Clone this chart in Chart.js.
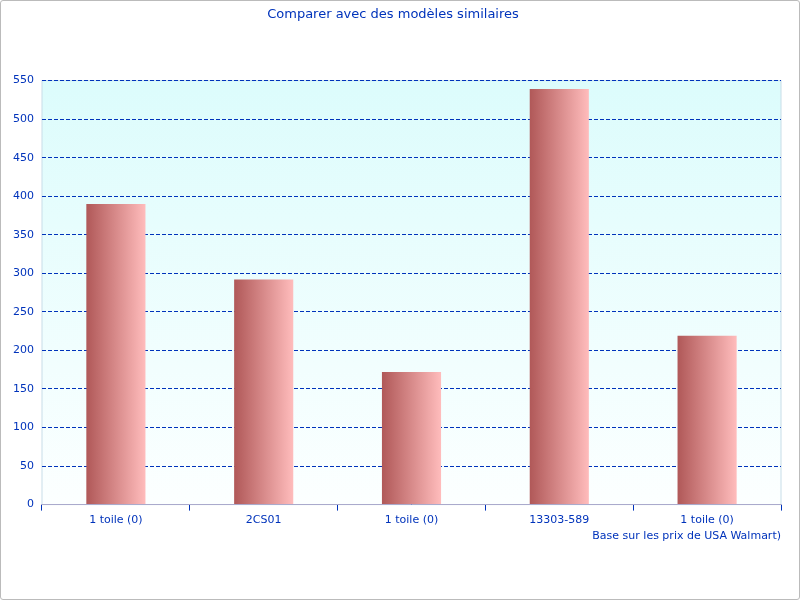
<!DOCTYPE html>
<html><head><meta charset="utf-8">
<script src="https://cdn.jsdelivr.net/npm/chart.js@4/dist/chart.umd.min.js"></script>
<style>body{margin:0;background:#fff}#w{position:absolute;left:0;top:0;width:798px;height:598px;border:1px solid #bbb;border-radius:3px}</style>
</head><body><div id="w"><canvas id="c" width="798" height="598"></canvas></div>
<script>
const categories=["1 toile (0)","2CS01","1 toile (0)","13303-589","1 toile (0)"];
const values=[390,292,172,539,219];
const yStep=50, yMax=550;
const blue="#0033bb";
const bgPlugin={id:"bg",beforeDraw(ch){const a=ch.chartArea,x=ch.ctx;const g=x.createLinearGradient(0,a.top,0,a.bottom);g.addColorStop(0,"#dcfcfc");g.addColorStop(1,"#fcffff");x.save();x.fillStyle=g;x.fillRect(a.left,a.top,a.right-a.left,a.bottom-a.top);x.strokeStyle="#c8dde8";x.strokeRect(a.left,a.top,a.right-a.left,a.bottom-a.top);x.restore();}};
function barFill(ctx){
  const ch=ctx.chart,s=ch.scales&&ch.scales.x;
  if(!s||!ch.chartArea)return"#d08888";
  const cx=s.getPixelForValue(ctx.dataIndex);
  const w=(s.right-s.left)/categories.length*0.4;
  if(!isFinite(cx)||!isFinite(w)||w<=0)return"#d08888";
  const g=ch.ctx.createLinearGradient(cx-w/2,0,cx+w/2,0);
  g.addColorStop(0,"#b05858");g.addColorStop(1,"#ffbcbc");return g;
}
new Chart(document.getElementById("c"),{type:"bar",
data:{labels:categories,datasets:[{data:values,barPercentage:0.4,categoryPercentage:1,backgroundColor:barFill}]},
options:{responsive:false,animation:false,layout:{padding:{top:6,right:18,left:4,bottom:52}},
plugins:{legend:{display:false},tooltip:{enabled:false},title:{display:true,text:"Comparer avec des modèles similaires",color:blue,font:{family:"DejaVu Sans",size:13,weight:"normal"},padding:{top:0,bottom:58}}},
scales:{x:{grid:{display:true,drawOnChartArea:false,offset:true,color:blue,tickLength:6},border:{color:"#aac"},ticks:{color:blue,font:{family:"DejaVu Sans",size:11}},
title:{display:true,text:"Base sur les prix de USA Walmart)",align:"end",color:blue,font:{family:"DejaVu Sans",size:11},padding:{top:0}}},
y:{min:0,max:yMax,grid:{color:blue,drawTicks:false},border:{display:false,dash:[4,2]},
ticks:{stepSize:yStep,color:blue,font:{family:"DejaVu Sans",size:11},padding:8}}}},
plugins:[bgPlugin]});
</script></body></html>
